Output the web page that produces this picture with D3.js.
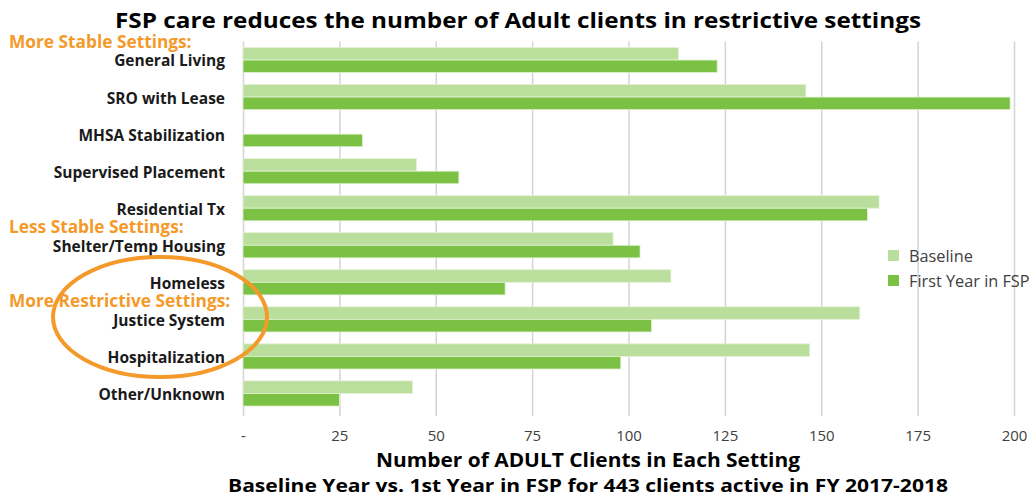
<!DOCTYPE html>
<html lang="en">
<head>
<meta charset="UTF-8">
<title>FSP chart</title>
<style>
    body { margin: 0; background: #fff; }
    #chart-wrapper { width: 1031px; height: 498px; }
    text { font-family: "Open Sans", "Liberation Sans", sans-serif; }
</style>
</head>
<body>
<div id="chart-wrapper"></div>
<script src="https://d3js.org/d3.v7.min.js"></script>
<script>
    const categories = ['General Living', 'SRO with Lease', 'MHSA Stabilization', 'Supervised Placement',
        'Residential Tx', 'Shelter/Temp Housing', 'Homeless', 'Justice System', 'Hospitalization', 'Other/Unknown']
    const baseline = [113, 146, 0, 45, 165, 96, 111, 160, 147, 44]
    const firstYear = [123, 199, 31, 56, 162, 103, 68, 106, 98, 25]
    const seriesNames = ['Baseline', 'First Year in FSP']
    const tickValues = [0, 25, 50, 75, 100, 125, 150, 175, 200]
    const tickLabels = ['-', '25', '50', '75', '100', '125', '150', '175', '200']
    const groupNotes = [
        { text: 'More Stable Settings:', before: 'General Living' },
        { text: 'Less Stable Settings:', before: 'Shelter/Temp Housing' },
        { text: 'More Restrictive Settings:', before: 'Justice System' }
    ]

    const colors = ['#badf9c', '#7bc143']
    const orange = '#f39a2b'
    const plot = { left: 243, right: 1014, top: 41.5, bottom: 412 }

    const svg = d3.select('#chart-wrapper')
        .append('svg')
        .attr('width', 1031)
        .attr('height', 498)

    const x = d3.scaleLinear()
        .domain([0, 200])
        .range([plot.left, plot.right])

    const y = d3.scaleBand()
        .domain(categories)
        .range([plot.top, plot.bottom])
        .paddingInner(0.32)
        .paddingOuter(0.16)

    const sub = d3.scaleBand()
        .domain(seriesNames)
        .range([0, y.bandwidth()])

    // gridlines + tick labels
    const axis = svg.append('g')
        .attr('transform', `translate(0, ${ plot.bottom + 4 })`)
        .call(d3.axisBottom(x)
            .tickValues(tickValues)
            .tickSize(-(plot.bottom - plot.top + 4))
            .tickPadding(14)
            .tickFormat((d, i) => tickLabels[i]))
    axis.select('.domain').remove()
    axis.selectAll('.tick line')
        .attr('stroke', '#d4d4d4')
        .attr('stroke-width', 1.5)
    axis.selectAll('.tick text')
        .attr('fill', '#404040')
        .style('font-size', '15px')

    // bars
    const rows = svg.append('g')
        .selectAll('g')
        .data(categories)
        .enter()
        .append('g')
        .attr('transform', d => `translate(0, ${ y(d) })`)

    rows.selectAll('rect')
        .data((d, i) => [baseline[i], firstYear[i]].map((v, j) => ({ name: seriesNames[j], value: v, j })))
        .enter()
        .append('rect')
        .filter(d => d.value > 0)
        .attr('x', x(0))
        .attr('y', d => sub(d.name))
        .attr('width', d => x(d.value) - x(0))
        .attr('height', sub.bandwidth())
        .attr('fill', d => colors[d.j])
        .attr('stroke', '#e4f2d8')
        .attr('stroke-width', 0.8)

    // category labels
    svg.append('g')
        .selectAll('text')
        .data(categories)
        .enter()
        .append('text')
        .attr('x', 225)
        .attr('y', d => y(d) + y.bandwidth() / 2 + 1)
        .attr('dy', '0.35em')
        .attr('text-anchor', 'end')
        .attr('font-weight', 'bold')
        .attr('fill', '#1a1a1a')
        .style('font-size', '15.5px')
        .text(d => d)

    // orange group notes
    svg.append('g')
        .selectAll('text')
        .data(groupNotes)
        .enter()
        .append('text')
        .attr('x', 9)
        .attr('y', d => y(d.before) - y.step() * 0.5 + y.bandwidth() / 2)
        .attr('dy', '0.35em')
        .attr('font-weight', 'bold')
        .attr('fill', orange)
        .style('font-size', '17.3px')
        .text(d => d.text)

    svg.append('ellipse')
        .attr('cx', 160)
        .attr('cy', 317)
        .attr('rx', 107)
        .attr('ry', 60)
        .attr('fill', 'none')
        .attr('stroke', orange)
        .attr('stroke-width', 4)

    // legend
    const legend = svg.append('g')
        .selectAll('g')
        .data(seriesNames)
        .enter()
        .append('g')
        .attr('transform', (d, i) => `translate(888, ${ 250 + i * 25 })`)
    legend.append('rect')
        .attr('width', 11)
        .attr('height', 11)
        .attr('fill', (d, i) => colors[i])
    legend.append('text')
        .attr('x', 21)
        .attr('y', 6)
        .attr('dy', '0.35em')
        .attr('fill', '#404040')
        .style('font-size', '16.3px')
        .text(d => d)

    // titles
    svg.append('text')
        .attr('x', 518)
        .attr('y', 28)
        .attr('text-anchor', 'middle')
        .attr('font-weight', 'bold')
        .attr('fill', '#000')
        .style('font-size', '22px')
        .attr('textLength', 806)
        .attr('lengthAdjust', 'spacingAndGlyphs')
        .text('FSP care reduces the number of Adult clients in restrictive settings')

    svg.append('text')
        .attr('x', 588)
        .attr('y', 467)
        .attr('text-anchor', 'middle')
        .attr('font-weight', 'bold')
        .attr('fill', '#000')
        .style('font-size', '19px')
        .attr('textLength', 424)
        .attr('lengthAdjust', 'spacingAndGlyphs')
        .text('Number of ADULT Clients in Each Setting')

    svg.append('text')
        .attr('x', 588)
        .attr('y', 492)
        .attr('text-anchor', 'middle')
        .attr('font-weight', 'bold')
        .attr('fill', '#000')
        .style('font-size', '18px')
        .attr('textLength', 720)
        .attr('lengthAdjust', 'spacingAndGlyphs')
        .text('Baseline Year vs. 1st Year in FSP for 443 clients active in FY 2017-2018')
</script>
</body>
</html>
